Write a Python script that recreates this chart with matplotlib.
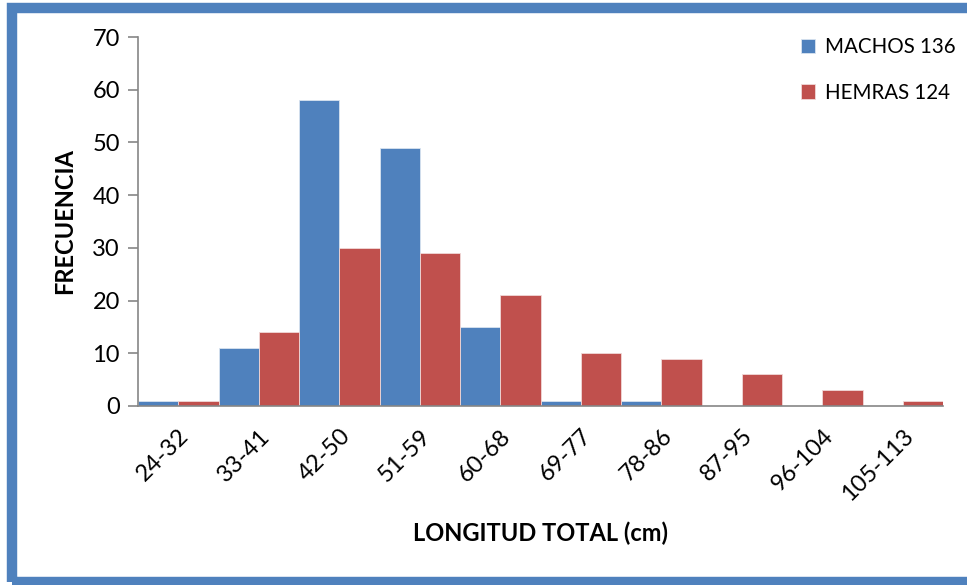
import matplotlib
matplotlib.use("Agg")
import matplotlib.pyplot as plt
from matplotlib.patches import Rectangle
import numpy as np

plt.rcParams['font.family'] = ['Lato', 'DejaVu Sans']

categories = ["24-32", "33-41", "42-50", "51-59", "60-68",
              "69-77", "78-86", "87-95", "96-104", "105-113"]
machos = [1, 11, 58, 49, 15, 1, 1, 0, 0, 0]
hembras = [1, 14, 30, 29, 21, 10, 9, 6, 3, 1]
series_labels = ["MACHOS 136", "HEMRAS 124"]
y_ticks = [0, 10, 20, 30, 40, 50, 60, 70]

W, H = 967, 585
fig = plt.figure(figsize=(W / 100, H / 100), dpi=100)
ax = fig.add_axes([138 / W, 1 - 406 / H, (943 - 138) / W, (406 - 37) / H])

x = np.arange(len(categories))
bw = 0.5
blue, red = "#4F81BD", "#C0504D"
ax.bar(x - bw / 2, machos, width=bw, color=blue, edgecolor="#D9E3F0", linewidth=0.6,
       label=series_labels[0])
ax.bar(x + bw / 2, hembras, width=bw, color=red, edgecolor="#F0D9D8", linewidth=0.6,
       label=series_labels[1])

ax.set_xlim(-0.5, len(categories) - 0.5)
ax.set_ylim(0, 70)
ax.set_yticks(y_ticks)
ax.set_xticks(x)
ax.set_xticklabels(categories, rotation=45, ha="right", rotation_mode="anchor")

for side in ("top", "right"):
    ax.spines[side].set_visible(False)
for side in ("left", "bottom"):
    ax.spines[side].set_color("#868686")
    ax.spines[side].set_linewidth(1.2)

ax.tick_params(axis="y", length=7, width=1.2, color="#868686", labelsize=17, pad=6)
ax.tick_params(axis="x", length=0, labelsize=17, pad=14)

ax.set_ylabel("FRECUENCIA", fontsize=17, fontweight="bold", labelpad=12)
ax.set_xlabel("LONGITUD TOTAL (cm)", fontsize=17, fontweight="bold", labelpad=12)

leg = ax.legend(loc="upper left", bbox_to_anchor=(0.80, 1.05), frameon=False,
                fontsize=14.8, handlelength=0.7, handleheight=0.7,
                handletextpad=0.5, labelspacing=1.25)

# outer blue frame
fig.patches.append(Rectangle((12 / W, 1 - 582 / H), (971 - 12) / W, (582 - 8) / H,
                             transform=fig.transFigure, fill=False,
                             edgecolor=blue, linewidth=7.5))

fig.savefig("out.png", dpi=100)
